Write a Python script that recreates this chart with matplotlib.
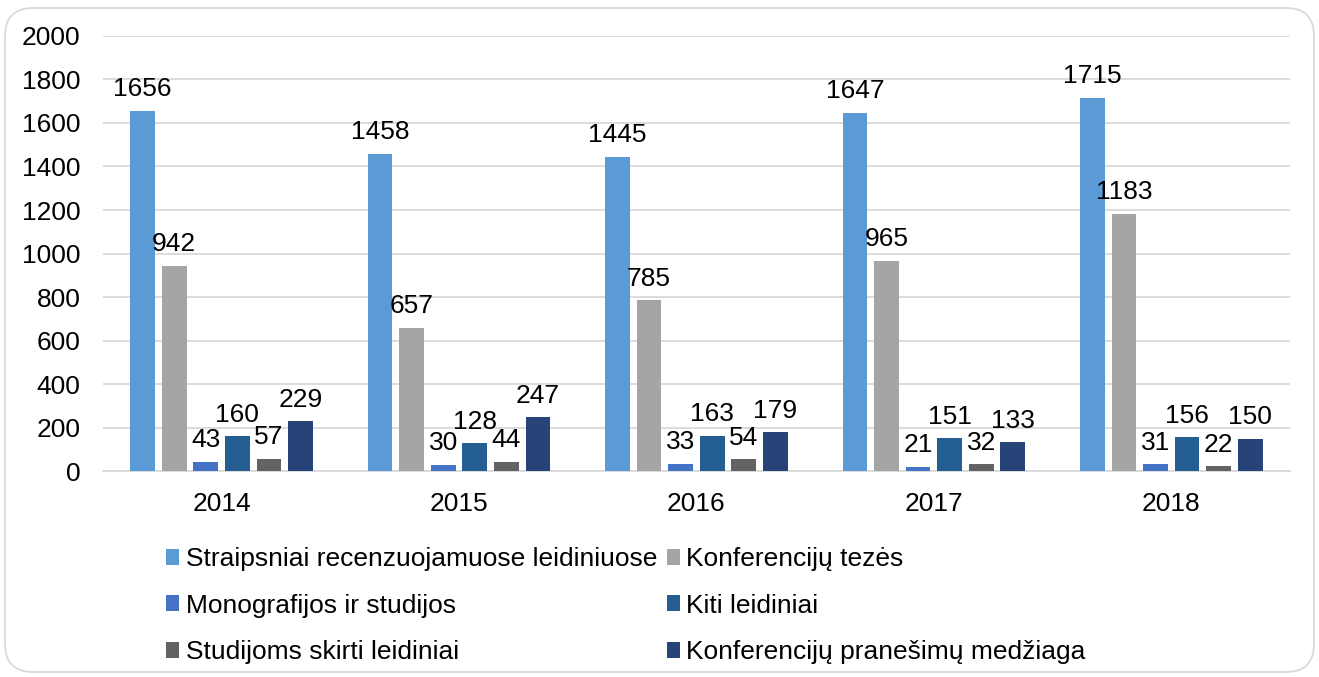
import matplotlib
matplotlib.use("Agg")
import matplotlib.pyplot as plt
from matplotlib.patches import FancyBboxPatch, Patch
import numpy as np

plt.rcParams['font.family'] = ['Liberation Sans', 'DejaVu Sans']

years = ["2014", "2015", "2016", "2017", "2018"]
series_names = [
    "Straipsniai recenzuojamuose leidiniuose",
    "Konferencijų tezės",
    "Monografijos ir studijos",
    "Kiti leidiniai",
    "Studijoms skirti leidiniai",
    "Konferencijų pranešimų medžiaga",
]
straipsniai = [1656, 1458, 1445, 1647, 1715]
tezes = [942, 657, 785, 965, 1183]
monografijos = [43, 30, 33, 21, 31]
kiti = [160, 128, 163, 151, 156]
studijoms = [57, 44, 54, 32, 22]
pranesimai = [229, 247, 179, 133, 150]
colors = ["#5B9BD5", "#A5A5A5", "#4472C4", "#255E91", "#636363", "#264478"]

values = [straipsniai, tezes, monografijos, kiti, studijoms, pranesimai]
FS = 19

fig = plt.figure(figsize=(13.19, 6.77), dpi=100)
ax = fig.add_axes([0.078, 0.304, 0.900, 0.643])

x = np.arange(len(years))
step = 0.133
width = 0.104
n = len(values)
for i, (vals, col) in enumerate(zip(values, colors)):
    pos = x + (i - (n - 1) / 2) * step
    bars = ax.bar(pos, vals, width=width, color=col, zorder=3)
    for b, v in zip(bars, vals):
        ax.annotate(str(v), (b.get_x() + b.get_width() / 2, v),
                    xytext=(0, 7), textcoords="offset points",
                    ha="center", va="bottom", fontsize=FS, color="#000000")

ax.set_xlim(-0.5, len(years) - 0.5)
ax.set_ylim(0, 2000)
ax.set_yticks(range(0, 2001, 200))
ax.set_xticks(x)
ax.set_xticklabels(years)
ax.tick_params(axis="both", length=0, labelsize=FS, colors="#000000")
ax.tick_params(axis="x", pad=15)
ax.tick_params(axis="y", pad=16)
ax.grid(axis="y", color="#D9D9D9", linewidth=1.3, zorder=0)
for s in ["top", "right", "left"]:
    ax.spines[s].set_visible(False)
ax.spines["bottom"].set_color("#D9D9D9")
ax.spines["bottom"].set_linewidth(1.3)

handles = [Patch(facecolor=c, edgecolor="none") for c in colors]
order = [0, 2, 4, 1, 3, 5]
fig.legend([handles[i] for i in order], [series_names[i] for i in order],
           ncol=2, loc="upper left", bbox_to_anchor=(0.126, 0.192),
           frameon=False, fontsize=FS, handlelength=0.5, handleheight=0.55,
           handletextpad=0.25, columnspacing=0.35, labelspacing=0.86,
           borderaxespad=0, borderpad=0)

frame = FancyBboxPatch((5, 5), 1309, 664, boxstyle="round,pad=0,rounding_size=28",
                       transform=None, facecolor="none", edgecolor="#D9D9D9",
                       linewidth=1.3)
fig.patches.append(frame)

fig.savefig("out.png", dpi=100)
